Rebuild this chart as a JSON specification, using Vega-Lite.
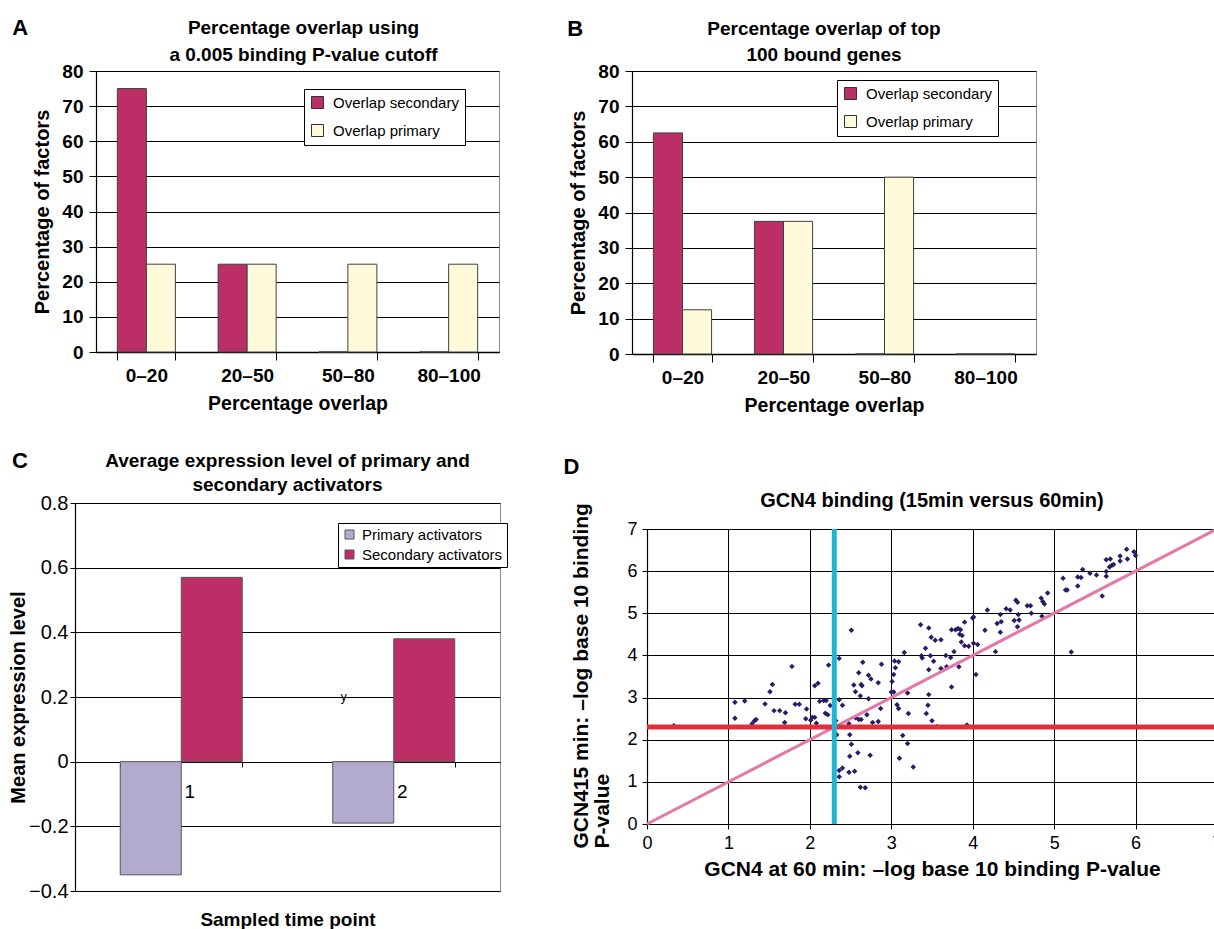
{
  "$schema": "https://vega.github.io/schema/vega-lite/v6.json",
  "background": "white",
  "padding": {"left": 0, "top": 16, "right": 0, "bottom": 0},
  "config": {
    "font": "Liberation Sans",
    "view": {"stroke": "#8c8c8c", "strokeWidth": 1},
    "axis": {"labelColor": "#000", "titleColor": "#000", "domainColor": "#000", "tickColor": "#000", "gridColor": "#000", "gridOpacity": 1, "gridWidth": 1, "domainWidth": 1.2, "tickWidth": 1, "labelFont": "Liberation Sans", "titleFont": "Liberation Sans", "labelFlush": false, "labelOverlap": false},
    "title": {"color": "#000", "font": "Liberation Sans", "fontWeight": "bold"},
    "legend": {"labelFont": "Liberation Sans", "labelColor": "#000"}
  },
  "resolve": {"scale": {"color": "independent", "xOffset": "independent"}, "legend": {"color": "independent"}},
  "spacing": 34,
  "vconcat": [
    {
      "spacing": 11,
      "resolve": {"scale": {"color": "independent", "xOffset": "independent"}, "legend": {"color": "independent"}},
      "hconcat": [
        {"width": 1, "height": 1, "data": {"values": []}, "mark": "point", "encoding": {}, "view": {"stroke": null}},
        {
          "spacing": 67,
          "resolve": {"scale": {"color": "independent", "xOffset": "independent"}, "legend": {"color": "independent"}},
          "hconcat": [
            {
              "title": {"text": "A", "anchor": "start", "frame": "bounds", "fontSize": 22, "offset": -21, "dx": -20},
              "resolve": {"scale": {"color": "independent", "xOffset": "independent"}, "legend": {"color": "independent"}},
              "vconcat": [
                {
                  "width": 403, "height": 281,
                  "title": {"text": ["Percentage overlap using", "a 0.005 binding P-value cutoff"], "fontSize": 19, "lineHeight": 27, "offset": -3, "dx": 6, "frame": "group", "anchor": "middle"},
                  "data": {"values": [
                    {"range": "0–20", "series": "Overlap secondary", "pct": 75},
                    {"range": "0–20", "series": "Overlap primary", "pct": 25},
                    {"range": "20–50", "series": "Overlap secondary", "pct": 25},
                    {"range": "20–50", "series": "Overlap primary", "pct": 25},
                    {"range": "50–80", "series": "Overlap secondary", "pct": 0},
                    {"range": "50–80", "series": "Overlap primary", "pct": 25},
                    {"range": "80–100", "series": "Overlap secondary", "pct": 0},
                    {"range": "80–100", "series": "Overlap primary", "pct": 25}
                  ]},
                  "mark": {"type": "bar", "stroke": "#404040", "strokeWidth": 1},
                  "encoding": {
                    "x": {"field": "range", "type": "nominal", "sort": ["0–20", "20–50", "50–80", "80–100"], "scale": {"paddingInner": 0.424, "paddingOuter": 0.212},
                      "axis": {"title": "Percentage overlap", "labelAngle": 0, "labelFontSize": 19, "labelFontWeight": "bold", "labelPadding": 6, "tickBand": "extent", "tickSize": 8, "titleFontSize": 19.5, "titleFontWeight": "bold", "titlePadding": 9, "grid": false, "domainWidth": 1.5}},
                    "xOffset": {"field": "series", "type": "nominal", "sort": ["Overlap secondary", "Overlap primary"], "scale": {"paddingInner": 0}},
                    "y": {"field": "pct", "type": "quantitative", "scale": {"domain": [0, 80], "nice": false},
                      "axis": {"title": "Percentage of factors", "values": [0, 10, 20, 30, 40, 50, 60, 70, 80], "labelFontSize": 19, "labelFontWeight": "bold", "labelPadding": 6, "tickSize": 7, "titleFontSize": 20, "titleFontWeight": "bold", "titlePadding": 9, "grid": true}},
                    "color": {"field": "series", "type": "nominal", "scale": {"domain": ["Overlap secondary", "Overlap primary"], "range": ["#BB2F66", "#FFFAD9"]},
                      "legend": {"title": null, "orient": "none", "legendX": 208, "legendY": 18, "strokeColor": "#000", "fillColor": "#fff", "padding": 6, "symbolType": "square", "symbolSize": 144, "symbolStrokeColor": "#333", "symbolStrokeWidth": 1, "symbolOpacity": 1, "labelFontSize": 15, "rowPadding": 11, "labelOffset": 8}}
                  }
                }
              ]
            },
            {
              "title": {"text": "B", "anchor": "start", "frame": "bounds", "fontSize": 22, "offset": -21, "dx": -1},
              "resolve": {"scale": {"color": "independent", "xOffset": "independent"}, "legend": {"color": "independent"}},
              "vconcat": [
                {
                  "width": 404, "height": 283,
                  "title": {"text": ["Percentage overlap of top", "100 bound genes"], "fontSize": 19, "lineHeight": 26, "offset": -3, "dx": -10, "frame": "group", "anchor": "middle"},
                  "data": {"values": [
                    {"range": "0–20", "series": "Overlap secondary", "pct": 62.5},
                    {"range": "0–20", "series": "Overlap primary", "pct": 12.5},
                    {"range": "20–50", "series": "Overlap secondary", "pct": 37.5},
                    {"range": "20–50", "series": "Overlap primary", "pct": 37.5},
                    {"range": "50–80", "series": "Overlap secondary", "pct": 0},
                    {"range": "50–80", "series": "Overlap primary", "pct": 50},
                    {"range": "80–100", "series": "Overlap secondary", "pct": 0},
                    {"range": "80–100", "series": "Overlap primary", "pct": 0}
                  ]},
                  "mark": {"type": "bar", "stroke": "#404040", "strokeWidth": 1},
                  "encoding": {
                    "x": {"field": "range", "type": "nominal", "sort": ["0–20", "20–50", "50–80", "80–100"], "scale": {"paddingInner": 0.424, "paddingOuter": 0.212},
                      "axis": {"title": "Percentage overlap", "labelAngle": 0, "labelFontSize": 19, "labelFontWeight": "bold", "labelPadding": 6, "tickBand": "extent", "tickSize": 8, "titleFontSize": 19.5, "titleFontWeight": "bold", "titlePadding": 9, "grid": false, "domainWidth": 1.5}},
                    "xOffset": {"field": "series", "type": "nominal", "sort": ["Overlap secondary", "Overlap primary"], "scale": {"paddingInner": 0}},
                    "y": {"field": "pct", "type": "quantitative", "scale": {"domain": [0, 80], "nice": false},
                      "axis": {"title": "Percentage of factors", "values": [0, 10, 20, 30, 40, 50, 60, 70, 80], "labelFontSize": 19, "labelFontWeight": "bold", "labelPadding": 6, "tickSize": 7, "titleFontSize": 20, "titleFontWeight": "bold", "titlePadding": 9, "grid": true}},
                    "color": {"field": "series", "type": "nominal", "scale": {"domain": ["Overlap secondary", "Overlap primary"], "range": ["#BB2F66", "#FFFAD9"]},
                      "legend": {"title": null, "orient": "none", "legendX": 205, "legendY": 9, "strokeColor": "#000", "fillColor": "#fff", "padding": 6, "symbolType": "square", "symbolSize": 144, "symbolStrokeColor": "#333", "symbolStrokeWidth": 1, "symbolOpacity": 1, "labelFontSize": 15, "rowPadding": 11, "labelOffset": 8}}
                  }
                }
              ]
            }
          ]
        }
      ]
    },
    {
      "spacing": 7,
      "resolve": {"scale": {"color": "independent", "xOffset": "independent"}, "legend": {"color": "independent"}},
      "hconcat": [
        {"width": 1, "height": 1, "data": {"values": []}, "mark": "point", "encoding": {}, "view": {"stroke": null}},
        {
          "spacing": 55,
          "resolve": {"scale": {"color": "independent", "xOffset": "independent"}, "legend": {"color": "independent"}},
          "hconcat": [
            {
              "title": {"text": "C", "anchor": "start", "frame": "bounds", "fontSize": 22, "offset": -21, "dx": 4},
              "resolve": {"scale": {"color": "independent", "xOffset": "independent"}, "legend": {"color": "independent"}},
              "vconcat": [
                {
                  "width": 425, "height": 388,
                  "title": {"text": ["Average expression level of primary and", "secondary activators"], "fontSize": 19, "lineHeight": 24, "offset": -2, "frame": "group", "anchor": "middle"},
                  "layer": [
                    {
                      "data": {"values": [
                        {"timepoint": "1", "series": "Primary activators", "level": -0.35},
                        {"timepoint": "1", "series": "Secondary activators", "level": 0.57},
                        {"timepoint": "2", "series": "Primary activators", "level": -0.19},
                        {"timepoint": "2", "series": "Secondary activators", "level": 0.38}
                      ]},
                      "mark": {"type": "bar", "stroke": "#555", "strokeWidth": 1},
                      "encoding": {
                        "x": {"field": "timepoint", "type": "nominal", "scale": {"paddingInner": 0.426, "paddingOuter": 0.213},
                          "axis": {"title": "Sampled time point", "labelAngle": 0, "offset": -129, "tickBand": "extent", "tickSize": 5, "labelFontSize": 19, "labelOffset": 8, "labelPadding": 15, "titleFontSize": 19, "titleFontWeight": "bold", "titleY": 148, "grid": false}},
                        "xOffset": {"field": "series", "type": "nominal", "sort": ["Primary activators", "Secondary activators"], "scale": {"paddingInner": 0}},
                        "y": {"field": "level", "type": "quantitative", "scale": {"domain": [-0.4, 0.8], "nice": false},
                          "axis": {"title": "Mean expression level", "values": [-0.4, -0.2, 0, 0.2, 0.4, 0.6, 0.8], "labelExpr": "datum.value == 0 ? '0' : format(datum.value, '.1f')", "labelFontSize": 20, "labelPadding": 2, "tickSize": 5, "titleFontSize": 20, "titleFontWeight": "bold", "titlePadding": 0, "grid": true}},
                        "color": {"field": "series", "type": "nominal", "scale": {"domain": ["Primary activators", "Secondary activators"], "range": ["#B3AAD0", "#BB2F66"]},
                          "legend": {"title": null, "orient": "none", "legendX": 263, "legendY": 20, "strokeColor": "#000", "fillColor": "#fff", "padding": 4, "symbolType": "square", "symbolSize": 81, "symbolStrokeColor": "#555", "symbolStrokeWidth": 1, "symbolOpacity": 1, "labelFontSize": 15, "rowPadding": 4, "labelOffset": 5}}
                      }
                    },
                    {
                      "data": {"values": [{"timepoint": "2", "level": 0.2, "note": "y"}]},
                      "mark": {"type": "text", "dx": -50, "fontSize": 12, "baseline": "middle", "color": "#000"},
                      "encoding": {
                        "x": {"field": "timepoint", "type": "nominal"},
                        "y": {"field": "level", "type": "quantitative"},
                        "text": {"field": "note"}
                      }
                    }
                  ]
                }
              ]
            },
            {
              "title": {"text": "D", "anchor": "start", "frame": "bounds", "fontSize": 22, "offset": 12, "dx": -7},
              "spacing": -9,
              "resolve": {"scale": {"color": "independent", "xOffset": "independent"}, "legend": {"color": "independent"}},
              "vconcat": [
                {"width": 570, "height": 1, "data": {"values": []}, "mark": "point", "encoding": {}, "view": {"stroke": null},
                  "title": {"text": "GCN4 binding (15min versus 60min)", "fontSize": 20, "offset": -8, "frame": "group", "anchor": "middle"}},
                {
                  "width": 570, "height": 295,
                  "view": {"stroke": "#000"},
                  "layer": [
                    {
                      "data": {"values": [
                        {"t60":0.33,"t15":2.33},{"t60":1.08,"t15":2.89},{"t60":1.2,"t15":2.92},{"t60":1.08,"t15":2.51},{"t60":1.29,"t15":2.38},{"t60":1.32,"t15":2.45},{"t60":1.34,"t15":2.48},{"t60":1.45,"t15":2.85},{"t60":1.51,"t15":3.14},{"t60":1.54,"t15":3.31},
                        {"t60":1.56,"t15":2.69},{"t60":1.63,"t15":2.69},{"t60":1.7,"t15":2.64},{"t60":1.69,"t15":2.41},{"t60":1.78,"t15":3.74},{"t60":1.82,"t15":2.84},{"t60":1.87,"t15":2.84},{"t60":1.96,"t15":2.73},{"t60":1.95,"t15":2.5},{"t60":2.01,"t15":2.46},
                        {"t60":2.03,"t15":2.53},{"t60":2.06,"t15":2.53},{"t60":2.08,"t15":2.39},{"t60":2.06,"t15":3.28},{"t60":2.1,"t15":3.34},{"t60":2.12,"t15":2.91},{"t60":2.17,"t15":2.93},{"t60":2.2,"t15":2.93},{"t60":2.19,"t15":2.63},{"t60":2.22,"t15":2.59},
                        {"t60":2.25,"t15":2.81},{"t60":2.23,"t15":3.77},{"t60":2.36,"t15":3.93},{"t60":2.36,"t15":2.95},{"t60":2.4,"t15":2.82},{"t60":2.51,"t15":4.6},{"t60":2.65,"t15":3.84},{"t60":2.6,"t15":3.59},{"t60":2.54,"t15":3.3},{"t60":2.56,"t15":3.14},
                        {"t60":2.63,"t15":3.31},{"t60":2.64,"t15":3.28},{"t60":2.62,"t15":3.04},{"t60":2.72,"t15":3.53},{"t60":2.75,"t15":3.44},{"t60":2.72,"t15":2.97},{"t60":2.7,"t15":2.59},{"t60":2.6,"t15":2.48},{"t60":2.63,"t15":2.48},{"t60":2.56,"t15":2.52},
                        {"t60":2.84,"t15":3.35},{"t60":2.88,"t15":3.79},{"t60":2.87,"t15":2.74},{"t60":2.77,"t15":2.41},{"t60":2.84,"t15":2.43},{"t60":2.49,"t15":2.12},{"t60":2.51,"t15":1.89},{"t60":2.49,"t15":1.61},{"t60":2.59,"t15":1.69},{"t60":2.74,"t15":1.63},
                        {"t60":2.4,"t15":1.33},{"t60":2.36,"t15":1.27},{"t60":2.36,"t15":1.12},{"t60":2.48,"t15":1.23},{"t60":2.55,"t15":1.25},{"t60":2.62,"t15":0.87},{"t60":2.68,"t15":0.86},{"t60":2.33,"t15":2.12},{"t60":3.03,"t15":3.55},{"t60":3.05,"t15":3.71},
                        {"t60":3.04,"t15":3.87},{"t60":3.09,"t15":3.85},{"t60":3.16,"t15":4.07},{"t60":3.01,"t15":3.38},{"t60":3.0,"t15":3.13},{"t60":3.03,"t15":3.13},{"t60":3.07,"t15":2.83},{"t60":3.09,"t15":2.74},{"t60":3.21,"t15":2.62},{"t60":3.2,"t15":3.11},
                        {"t60":3.14,"t15":2.1},{"t60":3.2,"t15":1.91},{"t60":3.1,"t15":1.56},{"t60":3.27,"t15":1.35},{"t60":3.36,"t15":4.73},{"t60":3.46,"t15":4.65},{"t60":3.49,"t15":4.43},{"t60":3.54,"t15":4.36},{"t60":3.61,"t15":4.37},{"t60":3.42,"t15":4.17},
                        {"t60":3.37,"t15":3.99},{"t60":3.38,"t15":3.94},{"t60":3.48,"t15":3.99},{"t60":3.52,"t15":3.86},{"t60":3.46,"t15":3.66},{"t60":3.61,"t15":3.69},{"t60":3.46,"t15":3.07},{"t60":3.45,"t15":2.82},{"t60":3.43,"t15":2.62},{"t60":3.5,"t15":2.45},
                        {"t60":3.56,"t15":2.31},{"t60":3.67,"t15":4.0},{"t60":3.68,"t15":3.73},{"t60":3.73,"t15":3.95},{"t60":3.77,"t15":4.09},{"t60":3.74,"t15":3.25},{"t60":3.83,"t15":3.73},{"t60":3.74,"t15":4.61},{"t60":3.79,"t15":4.61},{"t60":3.82,"t15":4.64},
                        {"t60":3.85,"t15":4.61},{"t60":3.84,"t15":4.5},{"t60":3.87,"t15":4.47},{"t60":3.9,"t15":4.79},{"t60":4.0,"t15":4.89},{"t60":4.01,"t15":4.91},{"t60":3.86,"t15":4.32},{"t60":3.9,"t15":4.23},{"t60":3.95,"t15":4.22},{"t60":4.01,"t15":4.29},
                        {"t60":4.06,"t15":4.26},{"t60":4.04,"t15":3.55},{"t60":3.93,"t15":2.35},{"t60":4.15,"t15":4.6},{"t60":4.18,"t15":5.08},{"t60":4.28,"t15":4.09},{"t60":4.3,"t15":4.76},{"t60":4.35,"t15":4.8},{"t60":4.34,"t15":4.55},{"t60":4.34,"t15":4.97},
                        {"t60":4.41,"t15":5.11},{"t60":4.46,"t15":5.08},{"t60":4.51,"t15":4.83},{"t60":4.56,"t15":4.97},{"t60":4.57,"t15":4.84},{"t60":4.55,"t15":4.68},{"t60":4.53,"t15":5.31},{"t60":4.55,"t15":5.26},{"t60":4.67,"t15":5.18},{"t60":4.71,"t15":5.18},
                        {"t60":4.72,"t15":5.0},{"t60":4.85,"t15":4.93},{"t60":4.84,"t15":5.36},{"t60":4.86,"t15":5.28},{"t60":4.88,"t15":5.22},{"t60":4.92,"t15":5.48},{"t60":5.11,"t15":5.83},{"t60":5.14,"t15":5.55},{"t60":5.16,"t15":5.55},{"t60":5.29,"t15":5.65},
                        {"t60":5.29,"t15":5.86},{"t60":5.33,"t15":5.85},{"t60":5.35,"t15":6.04},{"t60":5.44,"t15":5.95},{"t60":5.52,"t15":5.91},{"t60":5.59,"t15":5.41},{"t60":5.64,"t15":5.99},{"t60":5.64,"t15":5.88},{"t60":5.64,"t15":6.27},{"t60":5.69,"t15":6.29},
                        {"t60":5.68,"t15":6.1},{"t60":5.71,"t15":6.14},{"t60":5.73,"t15":6.16},{"t60":5.81,"t15":6.36},{"t60":5.81,"t15":6.24},{"t60":5.89,"t15":6.52},{"t60":5.9,"t15":6.29},{"t60":5.98,"t15":6.46},{"t60":6.0,"t15":6.37},{"t60":5.21,"t15":4.08},
                        {"t60":2.48,"t15":2.38},{"t60":2.32,"t15":2.45}
                      ]},
                      "mark": {"type": "point", "shape": "diamond", "filled": true, "size": 30, "color": "#2B1A66", "opacity": 1},
                      "encoding": {
                        "x": {"field": "t60", "type": "quantitative", "scale": {"domain": [0, 7], "nice": false},
                          "axis": {"title": "GCN4 at 60 min: –log base 10 binding P-value", "values": [0, 1, 2, 3, 4, 5, 6, 7], "format": "d", "labelFontSize": 18, "labelPadding": 5, "tickSize": 5, "titleFontSize": 21, "titleFontWeight": "bold", "titlePadding": 6, "grid": true, "labelFlush": false}},
                        "y": {"field": "t15", "type": "quantitative", "scale": {"domain": [0, 7], "nice": false},
                          "axis": {"title": ["GCN415 min: –log base 10 binding", "P-value"], "values": [0, 1, 2, 3, 4, 5, 6, 7], "format": "d", "labelFontSize": 18, "labelPadding": 5, "tickSize": 5, "titleFontSize": 21, "titleFontWeight": "bold", "titleAlign": "left", "titleY": 319, "titleLineHeight": 21, "titlePadding": 14, "grid": true}}
                      }
                    },
                    {
                      "data": {"values": [{"t60": 0, "t15": 0}, {"t60": 7, "t15": 7}]},
                      "mark": {"type": "line", "color": "#E479A8", "strokeWidth": 3},
                      "encoding": {"x": {"field": "t60", "type": "quantitative"}, "y": {"field": "t15", "type": "quantitative"}}
                    },
                    {
                      "data": {"values": [{"t15": 2.3}]},
                      "mark": {"type": "rule", "color": "#E0303A", "strokeWidth": 5},
                      "encoding": {"y": {"field": "t15", "type": "quantitative"}}
                    },
                    {
                      "data": {"values": [{"t60": 2.3}]},
                      "mark": {"type": "rule", "color": "#1FB6D6", "strokeWidth": 5},
                      "encoding": {"x": {"field": "t60", "type": "quantitative"}}
                    }
                  ]
                }
              ]
            }
          ]
        }
      ]
    }
  ]
}
